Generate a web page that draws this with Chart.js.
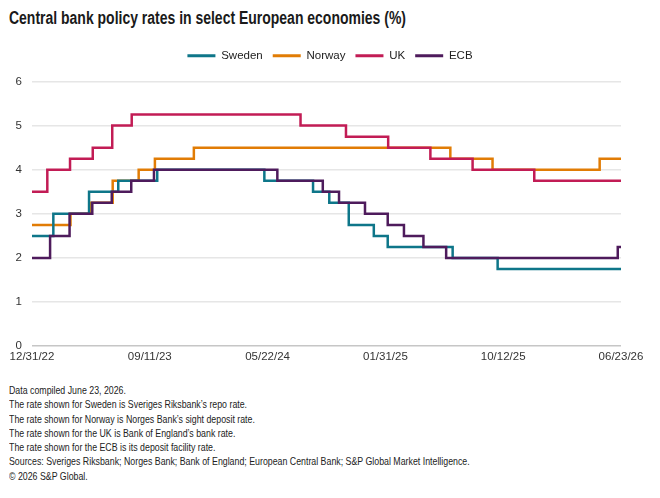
<!DOCTYPE html>
<html>
<head>
<meta charset="utf-8">
<script src="https://cdn.jsdelivr.net/npm/chart.js@4.4.1/dist/chart.umd.min.js"></script>
<style>
    html, body { margin: 0; padding: 0; background: #fff; }
    #page { position: relative; width: 660px; height: 498px; overflow: hidden; color: #1a1a1a;
        font-family: "Liberation Sans Narrow", "Liberation Sans", Arial, sans-serif; }
    #title { position: absolute; left: 9px; top: 8px; font-size: 17.5px; font-weight: bold;
        white-space: nowrap; transform-origin: 0 0; }
    #chart-box { position: absolute; left: 0; top: 40px; width: 660px; height: 335px; }
    #notes { position: absolute; left: 9px; top: 383px; font-size: 10.5px; line-height: 14.3px;
        white-space: nowrap; transform-origin: 0 0; color: #222; }
</style>
</head>
<body>
<div id="page">
    <div id="title">Central bank policy rates in select European economies (%)</div>
    <div id="chart-box"><canvas id="rates"></canvas></div>
    <div id="notes">
        <div>Data compiled June 23, 2026.</div>
        <div>The rate shown for Sweden is Sveriges Riksbank’s repo rate.</div>
        <div>The rate shown for Norway is Norges Bank’s sight deposit rate.</div>
        <div>The rate shown for the UK is Bank of England’s bank rate.</div>
        <div>The rate shown for the ECB is its deposit facility rate.</div>
        <div>Sources: Sveriges Riksbank; Norges Bank; Bank of England; European Central Bank; S&amp;P Global Market Intelligence.</div>
        <div>© 2026 S&amp;P Global.</div>
    </div>
</div>
<script>
const startDate = '2022-12-31'
const endDate = '2026-06-23'
const xTickLabels = ['12/31/22', '09/11/23', '05/22/24', '01/31/25', '10/12/25', '06/23/26']

// dates a rate took effect, and the rate from then on
const swedenDates = ['2022-12-31', '2023-02-15', '2023-05-03', '2023-07-05', '2023-09-27', '2024-05-15',
    '2024-08-28', '2024-10-02', '2024-11-13', '2025-01-06', '2025-02-05', '2025-06-25', '2025-09-30']
const swedenRates = [2.5, 3.0, 3.5, 3.75, 4.0, 3.75, 3.5, 3.25, 2.75, 2.5, 2.25, 2.0, 1.75]

const norwayDates = ['2022-12-31', '2023-03-24', '2023-05-05', '2023-06-23', '2023-08-18', '2023-09-22',
    '2023-12-15', '2025-06-20', '2025-09-19', '2026-05-08']
const norwayRates = [2.75, 3.0, 3.25, 3.75, 4.0, 4.25, 4.5, 4.25, 4.0, 4.25]

const ukDates = ['2022-12-31', '2023-02-02', '2023-03-23', '2023-05-11', '2023-06-22', '2023-08-03',
    '2024-08-01', '2024-11-07', '2025-02-06', '2025-05-08', '2025-08-07', '2025-12-18']
const ukRates = [3.5, 4.0, 4.25, 4.5, 5.0, 5.25, 5.0, 4.75, 4.5, 4.25, 4.0, 3.75]

const ecbDates = ['2022-12-31', '2023-02-08', '2023-03-22', '2023-05-10', '2023-06-21', '2023-08-02',
    '2023-09-20', '2024-06-12', '2024-09-18', '2024-10-23', '2024-12-18', '2025-02-05', '2025-03-12',
    '2025-04-23', '2025-06-11', '2026-06-16']
const ecbRates = [2.0, 2.5, 3.0, 3.25, 3.5, 3.75, 4.0, 3.75, 3.5, 3.25, 3.0, 2.75, 2.5, 2.25, 2.0, 2.25]

const seriesColors = { Sweden: '#0e7689', Norway: '#e17c05', UK: '#c21c55', ECB: '#4e1b5c' }

const dayOf = d => (Date.parse(d) - Date.parse(startDate)) / 86400000

function toPoints(dates, rates) {
    let points = dates.map((d, i) => ({ x: dayOf(d), y: rates[i] }))
    points.push({ x: dayOf(endDate), y: rates[rates.length - 1] })
    return points
}

const makeDataset = (label, dates, rates, order) => ({
    label: label,
    data: toPoints(dates, rates),
    borderColor: seriesColors[label],
    backgroundColor: seriesColors[label],
    borderWidth: 2.5,
    pointRadius: 0,
    stepped: true,
    order: order
})

const tickFont = { family: '"Liberation Sans", Arial, sans-serif', size: 11.5 }

new Chart(document.getElementById('rates'), {
    type: 'line',
    data: {
        datasets: [
            makeDataset('Sweden', swedenDates, swedenRates, 2),
            makeDataset('Norway', norwayDates, norwayRates, 3),
            makeDataset('UK', ukDates, ukRates, 1),
            makeDataset('ECB', ecbDates, ecbRates, 0)
        ]
    },
    options: {
        animation: false,
        responsive: true,
        maintainAspectRatio: false,
        layout: { padding: { top: 0, right: 0, bottom: 7, left: 0 } },
        plugins: {
            tooltip: { enabled: false },
            legend: {
                position: 'top',
                labels: {
                    boxWidth: 28,
                    boxHeight: 3,
                    padding: 10,
                    color: '#222',
                    font: tickFont,
                    sort: (a, b) => a.datasetIndex - b.datasetIndex,
                    generateLabels(chart) {
                        return Chart.defaults.plugins.legend.labels.generateLabels(chart)
                            .map(item => ({ ...item, lineWidth: 0 }))
                    }
                }
            },
            // empty spacer between the legend and the plot
            subtitle: {
                display: true,
                text: '',
                position: 'top',
                weight: 500,
                font: { size: 1, lineHeight: 1 },
                padding: { top: 0, bottom: 9 }
            }
        },
        scales: {
            x: {
                type: 'linear',
                min: 0,
                max: dayOf(endDate),
                ticks: {
                    stepSize: dayOf(endDate) / 5,
                    autoSkip: false,
                    maxRotation: 0,
                    padding: 4,
                    color: '#333',
                    font: tickFont,
                    callback: (value, i) => xTickLabels[i]
                },
                grid: { display: false, drawTicks: false },
                border: { display: false },
                afterFit(scale) { scale.paddingRight = 39 }
            },
            y: {
                min: 0,
                max: 6,
                ticks: { stepSize: 1, padding: 10, color: '#333', font: tickFont },
                grid: {
                    drawTicks: false,
                    lineWidth: 1.5,
                    color: ctx => ctx.tick.value === 0 ? '#c6c6c6' : '#e6e6e6'
                },
                border: { display: false },
                afterFit(scale) { scale.width = 32 }
            }
        }
    }
});

// squeeze title and notes to the narrow width of the original typeface
const title = document.getElementById('title')
title.style.transform = `scaleX(${397 / title.scrollWidth})`
const notes = document.getElementById('notes')
notes.style.transform = `scaleX(${461 / notes.scrollWidth})`
</script>
</body>
</html>
